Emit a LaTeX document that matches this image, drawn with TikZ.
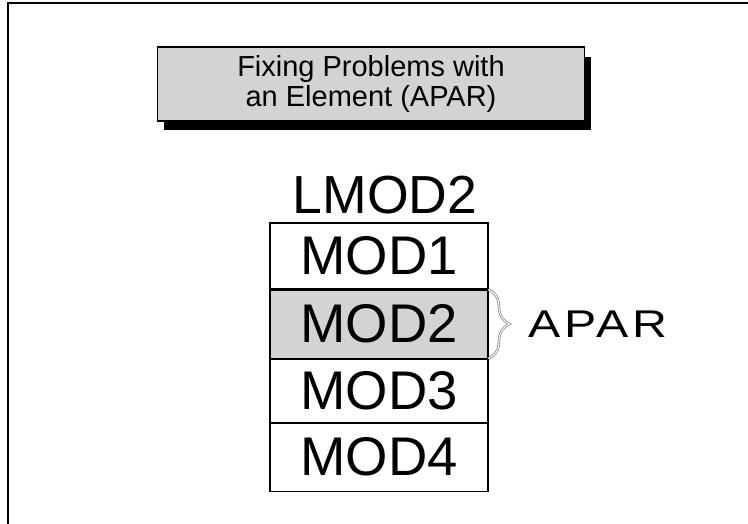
\documentclass[tikz,border=0pt]{standalone}
\usepackage{fontspec}
\setmainfont{Liberation Sans}
\usetikzlibrary{positioning, shadows, decorations.pathreplacing}

\definecolor{boxgray}{HTML}{D3D3D3}

\begin{document}
\begin{tikzpicture}[x=0.02cm, y=-0.02cm,
    row/.style={draw, semithick, minimum width=4.36cm, inner sep=0pt,
      font=\fontsize{31}{31}\selectfont},
    title/.style={draw, semithick, fill=boxgray, minimum width=8.56cm,
      minimum height=1.48cm, align=center,
      font=\fontsize{16.5}{17.5}\selectfont,
      general shadow={fill=black, shadow xshift=0.13cm, shadow yshift=-0.19cm}}]
    \useasboundingbox (0,0) rectangle (748,524);

    % Rahmen (oben und links)
    \draw[line width=0.8pt] (748,3) -- (8,3) -- (8,524);

    % Titel
    \node[title] (head) at (371,84) {Fixing Problems with\\an Element (APAR)};

    % Lademodul mit vier Modulen
    \node[font=\fontsize{30.5}{30.5}\selectfont] (lmod) at (385,195) {LMOD2};
    \node[row, minimum height=1.32cm] (mod1) at (379,256) {MOD1};
    \node[row, fill=boxgray, minimum height=1.36cm, below=0pt of mod1] (mod2) {MOD2};
    \node[row, minimum height=1.26cm, below=0pt of mod2] (mod3) {MOD3};
    \node[row, minimum height=1.36cm, below=0pt of mod3] (mod4) {MOD4};

    % Klammer fuer MOD2
    \draw[gray, double=white, double distance=0.6pt,
      decorate, decoration={brace, amplitude=0.42cm}]
      (mod2.north east) -- (mod2.south east)
      coordinate[pos=0.5, xshift=0.44cm] (tip);
    \node[anchor=west, font=\fontsize{22}{22}\selectfont\addfontfeature{LetterSpace=8},
      xscale=1.25] (apar) at ([xshift=0.2cm]tip) {APAR};
\end{tikzpicture}
\end{document}
